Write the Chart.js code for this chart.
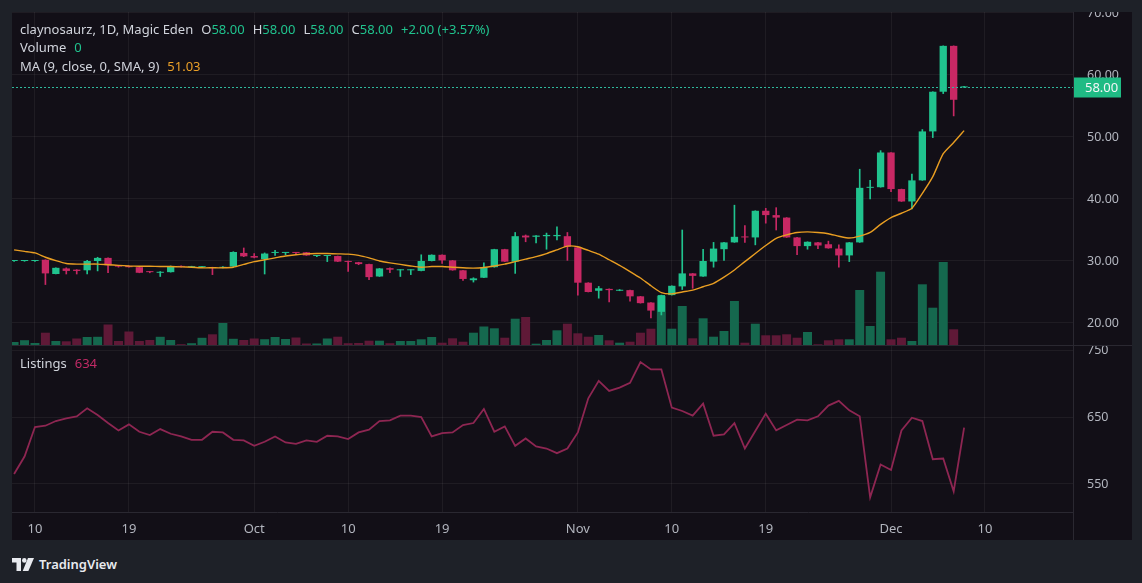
<!DOCTYPE html>
<html>
<head>
<meta charset="utf-8">
<script src="https://cdn.jsdelivr.net/npm/chart.js@4.4.1/dist/chart.umd.min.js"></script>
<style>
  html, body { margin: 0; padding: 0; background: #1e2128; width: 1142px; height: 583px; overflow: hidden; font-family: "Noto Sans", sans-serif; }
  #panel { position: absolute; left: 12px; top: 12px; width: 1120px; height: 528px; background: #120f17; }
  .box { position: absolute; left: 12px; width: 1120px; }
  #topBox { top: 12px; height: 333px; }
  #sep { position: absolute; left: 12px; top: 345px; width: 1120px; height: 1px; background: #2a2831; }
  #bottomBox { top: 346px; height: 194px; }
  #axisLine { position: absolute; left: 1073px; top: 512px; width: 1px; height: 28px; background: #2a2831; }
  .legend { position: absolute; left: 20px; font-size: 13px; line-height: 16px; color: #d1d4dc; white-space: nowrap; z-index: 5; }
  .legend span { margin-left: 8px; }
  .legend span:first-child { margin-left: 0; }
  .up { color: #20c38e; }
  .ma { color: #eba028; }
  .lst { color: #c22a66; }
  #logo { position: absolute; left: 12px; top: 555px; display: flex; align-items: center; color: #e8eaef; font-size: 13px; font-weight: 600; }
  #logo svg { margin-right: 5px; }
</style>
</head>
<body>
<div id="panel"></div>
<div class="box" id="topBox"><canvas id="priceChart" width="1120" height="333"></canvas></div>
<div id="sep"></div>
<div class="box" id="bottomBox"><canvas id="listChart" width="1120" height="194"></canvas></div>
<div id="axisLine"></div>

<div class="legend" style="top:21px">
  <span>claynosaurz, 1D, Magic Eden</span><span>O<b class="up" style="font-weight:400">58.00</b></span><span>H<b class="up" style="font-weight:400">58.00</b></span><span>L<b class="up" style="font-weight:400">58.00</b></span><span>C<b class="up" style="font-weight:400">58.00</b></span><span class="up">+2.00 (+3.57%)</span>
</div>
<div class="legend" style="top:39px"><span>Volume</span><span class="up">0</span></div>
<div class="legend" style="top:58px"><span>MA (9, close, 0, SMA, 9)</span><span class="ma">51.03</span></div>
<div class="legend" style="top:355px"><span>Listings</span><span class="lst">634</span></div>

<div id="logo">
  <svg width="22" height="13" viewBox="0 0 22 13"><path d="M0 0h9v13h-4.5v-8.5h-4.5z" fill="#e8eaef"/><circle cx="12.3" cy="2.4" r="2.3" fill="#e8eaef"/><path d="M16 0h6l-5.6 13h-5.7z" fill="#e8eaef"/></svg>
  TradingView
</div>

<script>
// === Données (jour 0 = 8 sept., un point par jour jusqu'au 8 déc.) ===
const opens = [30.0, 30.0, 30.0, 30.2, 27.9, 28.8, 28.6, 28.5, 30.0, 30.5,
  29.3, 29.2, 29.0, 28.3, 28.1, 28.2, 29.2, 29.0, 29.0, 29.0,
  28.9, 29.1, 31.3, 30.8, 30.3, 31.3, 31.3, 31.4, 31.4, 30.8,
  30.8, 30.8, 30.0, 29.8, 29.5, 27.5, 28.85, 28.5, 28.5, 28.4,
  30.0, 31.0, 30.1, 28.5, 26.9, 27.3, 29.0, 31.9, 29.9, 34.1,
  33.9, 34.0, 34.0, 34.0, 32.2, 26.5, 25.2, 25.5, 25.2, 25.3,
  24.3, 23.3, 21.8, 24.5, 25.9, 28.0, 27.5, 29.9, 31.9, 33.0,
  33.9, 33.8, 38.1, 37.4, 37.0, 33.8, 32.4, 33.0, 32.7, 32.0,
  30.9, 33.0, 41.8, 41.9, 47.5, 41.6, 39.6, 43.0, 50.9, 57.3,
  64.7, 58.0];
const highs = [30.05, 30.1, 30.1, 30.2, 28.9, 28.9, 28.6, 30.1, 30.6, 30.5,
  29.3, 29.2, 29.1, 28.3, 28.3, 29.2, 29.2, 29.1, 29.1, 29.0,
  29.1, 31.5, 32.1, 31.2, 31.3, 31.7, 31.4, 31.4, 31.4, 30.9,
  30.9, 30.8, 30.0, 29.8, 29.5, 28.8, 28.9, 28.6, 28.6, 31.0,
  31.0, 31.0, 30.1, 28.5, 27.3, 29.7, 31.9, 31.9, 34.6, 34.2,
  34.1, 34.5, 35.5, 34.6, 32.2, 26.5, 25.9, 25.5, 25.4, 25.3,
  24.3, 23.3, 24.5, 26.0, 35.0, 28.0, 31.9, 33.0, 33.0, 39.0,
  35.7, 38.1, 38.5, 38.6, 37.0, 33.8, 33.1, 33.0, 33.2, 32.6,
  33.0, 44.8, 43.0, 47.8, 47.5, 41.6, 44.0, 51.2, 57.3, 64.7,
  64.7, 58.0];
const lows = [29.95, 29.95, 29.95, 26.2, 27.9, 27.9, 27.9, 27.9, 28.4, 28.1,
  29.0, 29.0, 28.1, 28.1, 27.5, 28.2, 29.0, 29.0, 28.95, 27.8,
  28.9, 29.1, 30.7, 30.5, 27.9, 30.9, 31.0, 31.0, 30.9, 30.7,
  29.9, 29.9, 28.3, 29.4, 27.0, 27.5, 28.1, 27.5, 27.8, 28.4,
  30.0, 29.6, 28.5, 26.85, 26.6, 27.3, 29.0, 29.9, 28.0, 33.1,
  32.9, 31.9, 33.4, 30.1, 24.5, 25.0, 24.0, 23.4, 25.2, 23.5,
  23.2, 20.8, 21.3, 24.5, 25.4, 25.6, 27.5, 29.0, 30.1, 33.0,
  33.0, 32.6, 36.1, 35.0, 33.8, 31.0, 31.9, 32.0, 32.05, 29.0,
  29.9, 33.0, 40.0, 41.9, 41.2, 39.6, 38.4, 43.0, 49.9, 57.0,
  53.4, 58.0];
const closes = [30.0, 30.05, 30.05, 28.0, 28.9, 28.4, 28.4, 30.0, 30.5, 29.3,
  29.1, 29.0, 28.1, 28.2, 28.2, 29.15, 29.05, 29.05, 29.05, 28.85,
  29.05, 31.45, 30.75, 30.55, 31.2, 31.4, 31.4, 31.3, 30.9, 30.85,
  30.85, 29.9, 29.85, 29.5, 27.4, 28.8, 28.6, 28.6, 28.6, 30.0,
  31.0, 30.1, 28.5, 27.1, 27.2, 29.0, 31.9, 29.9, 34.0, 33.8,
  34.1, 34.2, 34.2, 32.3, 26.5, 25.0, 25.6, 25.3, 25.35, 24.3,
  23.2, 22.0, 24.5, 26.0, 28.0, 27.6, 30.0, 32.0, 33.0, 33.9,
  33.8, 38.1, 37.4, 37.0, 33.8, 32.4, 33.1, 32.5, 32.05, 30.9,
  33.0, 41.8, 41.9, 47.5, 41.6, 39.6, 43.0, 50.9, 57.3, 64.7,
  56.0, 58.0];
const volumes = [3, 4.8, 2, 12.3, 4, 3.7, 6.5, 8, 8.2, 20.5,
  4, 13.5, 4, 5, 8.2, 5, 0.8, 1.8, 7.2, 10.7,
  22, 6.2, 5, 6.5, 5.8, 8, 6, 7.5, 1.5, 1.5,
  6.5, 8.3, 1.8, 2, 4.3, 4.3, 1.8, 4, 4, 5.7,
  8, 2.3, 6.7, 3.3, 12.3, 18.5, 16.7, 7.3, 26.3, 28,
  1.3, 5, 14.7, 21.3, 11.7, 8.3, 10, 4.7, 2.3, 3.3,
  12.3, 16.3, 49, 16.3, 39, 6.7, 26.7, 8.3, 14, 44,
  2.3, 21.3, 9.7, 9.7, 10.7, 7.3, 13, 0.7, 4.7, 5.7,
  5.7, 55, 19, 73.3, 5.7, 7.3, 4, 60.7, 37.3, 83,
  15.7, 0];
const ma9 = [31.8, 31.55, 31.3, 30.6, 30.05, 29.6, 29.5, 29.5, 29.5, 29.4,
  29.3, 29.2, 29.15, 29.15, 29.1, 29.1, 29.05, 29.0, 28.9, 28.9,
  28.9, 29.0, 29.45, 29.9, 30.2, 30.5, 30.8, 31.0, 31.15, 31.2,
  31.2, 31.15, 31.1, 30.9, 30.5, 30.0, 29.7, 29.45, 29.2, 29.0,
  29.1, 29.1, 29.0, 28.9, 28.85, 28.95, 29.2, 29.5, 29.9, 30.3,
  30.7, 31.2, 31.8, 32.4, 32.3, 31.7, 31.1, 30.2, 29.3, 28.3,
  27.25, 26.0, 24.9, 24.7, 25.0, 25.3, 25.85, 26.4, 27.4, 28.55,
  29.9, 31.2, 32.5, 33.65, 34.2, 34.6, 34.7, 34.6, 34.4, 34.0,
  33.7, 34.0, 34.6, 35.9, 37.0, 37.7, 38.5, 40.9, 43.6, 47.3,
  49.1, 51.03];
const listings = [565, 591, 635, 637, 644, 648, 651, 663, 653, 641,
  630, 639, 628, 623, 632, 625, 621, 616, 616, 628,
  627, 616, 615, 607, 613, 621, 612, 610, 615, 613,
  622, 621, 617, 627, 631, 644, 645, 652, 652, 650,
  621, 626, 627, 638, 641, 662, 628, 636, 607, 618,
  606, 603, 596, 603, 627, 678, 704, 689, 694, 701,
  732, 721, 721, 664, 659, 652, 670, 622, 624, 641,
  603, 629, 655, 630, 638, 646, 645, 651, 667, 674,
  660, 651, 530, 579, 571, 630, 649, 644, 587, 588,
  539, 634];

const tickDays = [2, 11, 23, 32, 41, 54, 63, 72, 84, 93];
const tickLabels = ['10', '19', 'Oct', '10', '19', 'Nov', '10', '19', 'Dec', '10'];
const priceTicks = [20, 30, 40, 50, 60, 70];
const listingTicks = [550, 650, 750];
const lastPrice = 58;

// === Couleurs ===
const upColor = '#20c38e';
const downColor = '#c82864';
const upVol = '#15684e';
const downVol = '#5f1937';
const gridColor = 'rgba(255,255,255,0.055)';
const textColor = '#b2b5be';
const fontFamily = '"Noto Sans", sans-serif';

const isUp = opens.map((o, i) => closes[i] >= o);
const xRange = { min: -0.2, max: 101.43 };

function dateAxis(showLabels) {
  return {
    type: 'linear',
    min: xRange.min,
    max: xRange.max,
    offset: false,
    afterBuildTicks: s => { s.ticks = tickDays.map(v => ({ value: v })); },
    afterFit: s => { s.height = showLabels ? 28 : 0; s.paddingLeft = 0; s.paddingRight = 0; },
    grid: { color: gridColor, drawTicks: false, offset: false },
    border: { display: showLabels, color: '#2a2831' },
    ticks: {
      display: showLabels,
      autoSkip: false,
      maxRotation: 0,
      padding: 9,
      color: textColor,
      font: { family: fontFamily, size: 13 },
      callback: v => tickLabels[tickDays.indexOf(v)]
    }
  };
}

function valueAxis(min, max, ticks, digits) {
  return {
    position: 'right',
    min: min,
    max: max,
    afterBuildTicks: s => { s.ticks = ticks.map(v => ({ value: v })); },
    afterFit: s => { s.width = 59; s.paddingTop = 0; s.paddingBottom = 0; },
    grid: { color: gridColor, drawTicks: false },
    border: { display: true, color: '#2a2831' },
    ticks: {
      padding: 14,
      color: textColor,
      font: { family: fontFamily, size: 12.5 },
      callback: v => v.toFixed(digits)
    }
  };
}

// === Ligne du dernier prix + étiquette ===
const lastPriceLine = {
  id: 'lastPriceLine',
  afterDraw(chart) {
    const { ctx, chartArea, scales } = chart;
    const y = Math.round(scales.y.getPixelForValue(lastPrice)) + 0.5;
    ctx.save();
    ctx.strokeStyle = '#2fb89c';
    ctx.lineWidth = 1;
    ctx.setLineDash([2, 2]);
    ctx.beginPath();
    ctx.moveTo(chartArea.left, y);
    ctx.lineTo(chartArea.right, y);
    ctx.stroke();
    ctx.setLineDash([]);
    ctx.fillStyle = '#1fbb84';
    ctx.fillRect(chartArea.right + 1, y - 10, 47, 20);
    ctx.fillStyle = '#f4f6f8';
    ctx.font = '13px ' + fontFamily;
    ctx.textBaseline = 'middle';
    ctx.fillText(lastPrice.toFixed(2), chartArea.right + 12, y + 0.5);
    ctx.restore();
  }
};

// === 1. Graphique du prix (bougies + volume + MA) ===
new Chart(document.getElementById('priceChart'), {
  type: 'bar',
  data: {
    datasets: [
      {
        label: 'Volume',
        data: volumes.map((v, i) => ({ x: i, y: v })),
        yAxisID: 'yv',
        backgroundColor: isUp.map(u => u ? upVol : downVol),
        barPercentage: 0.86,
        categoryPercentage: 1,
        grouped: false,
        order: 4
      },
      {
        label: 'Mèches',
        data: opens.map((o, i) => ({ x: i, y: [lows[i], highs[i]] })),
        yAxisID: 'y',
        backgroundColor: isUp.map(u => u ? upColor : downColor),
        barThickness: 1,
        grouped: false,
        minBarLength: 1,
        order: 3
      },
      {
        label: 'Corps',
        data: opens.map((o, i) => ({ x: i, y: [o, closes[i]] })),
        yAxisID: 'y',
        backgroundColor: isUp.map(u => u ? upColor : downColor),
        barPercentage: 0.7,
        categoryPercentage: 1,
        grouped: false,
        minBarLength: 1,
        order: 2
      },
      {
        type: 'line',
        label: 'MA 9',
        data: ma9.map((v, i) => ({ x: i, y: v })),
        yAxisID: 'y',
        borderColor: '#e99e22',
        borderWidth: 1.4,
        pointRadius: 0,
        tension: 0.2,
        order: 1
      }
    ]
  },
  options: {
    responsive: false,
    animation: false,
    layout: { padding: 0 },
    plugins: { legend: { display: false }, tooltip: { enabled: false } },
    scales: {
      x: dateAxis(false),
      y: valueAxis(16.45, 70.16, priceTicks, 2),
      yv: { display: false, min: 0, max: 333 }
    }
  },
  plugins: [lastPriceLine]
});

// === 2. Graphique des listings ===
new Chart(document.getElementById('listChart'), {
  type: 'line',
  data: {
    datasets: [{
      label: 'Listings',
      data: listings.map((v, i) => ({ x: i, y: v })),
      borderColor: '#8e2652',
      borderWidth: 1.8,
      pointRadius: 0,
      tension: 0
    }]
  },
  options: {
    responsive: false,
    animation: false,
    layout: { padding: 0 },
    plugins: { legend: { display: false }, tooltip: { enabled: false } },
    scales: {
      x: dateAxis(true),
      y: valueAxis(508.2, 756, listingTicks, 0)
    }
  }
});
</script>
</body>
</html>
